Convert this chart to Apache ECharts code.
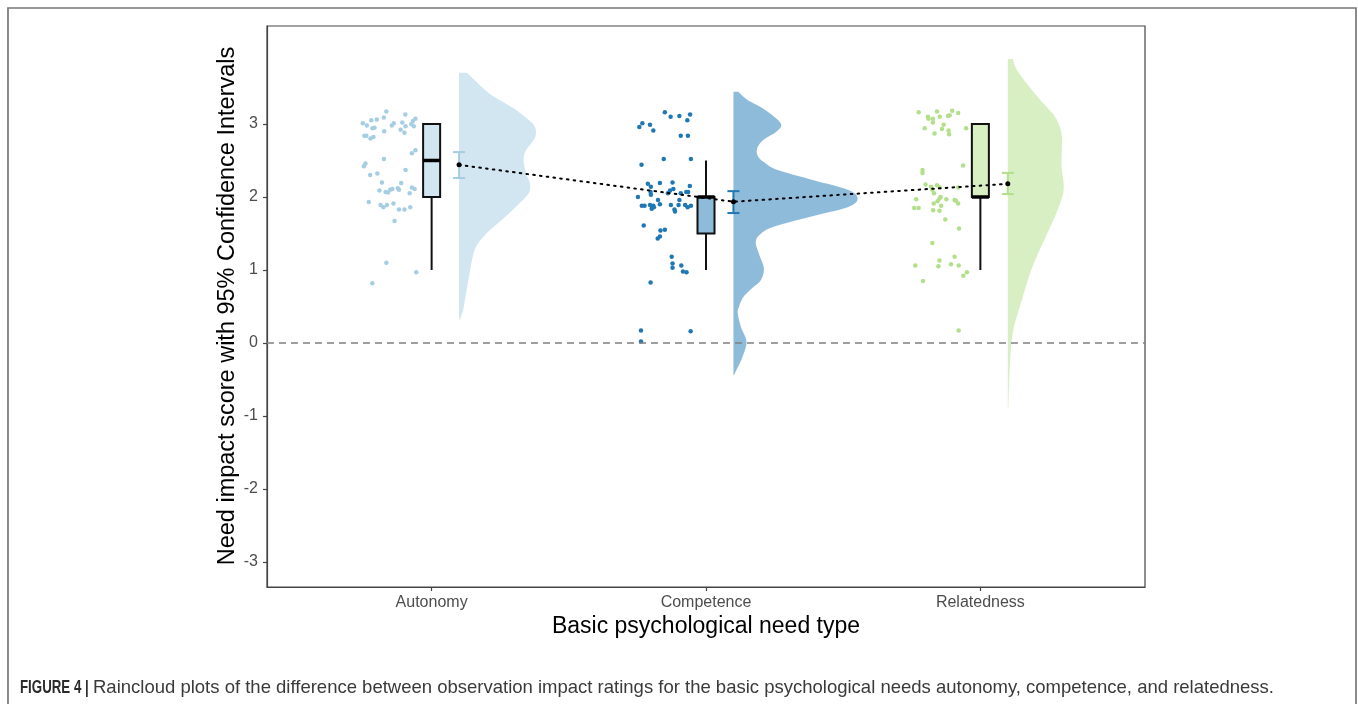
<!DOCTYPE html>
<html>
<head>
<meta charset="utf-8">
<script src="https://cdn.jsdelivr.net/npm/echarts@6/dist/echarts.min.js"></script>
<style>
html,body{margin:0;padding:0;background:#fff;}
#chart{width:1358px;height:704px;}
</style>
</head>
<body>
<div id="chart"></div>
<script>
// ---------------- DATA ----------------
const categories = ['Autonomy', 'Competence', 'Relatedness'];
const yTicks = [-3, -2, -1, 0, 1, 2, 3];

// jittered raw observations: [horizontal jitter (category units), score]
const autonomyPoints = [
  [-0.165,3.17],[-0.096,3.13],[-0.174,3.09],[-0.059,3.07],[-0.200,3.06],[-0.220,3.05],[-0.068,3.04],
  [-0.251,3.01],[-0.138,3.01],[-0.107,3.02],[-0.074,3.00],[-0.236,2.98],[-0.145,2.98],[-0.095,2.97],
  [-0.065,2.97],[-0.208,2.95],[-0.216,2.94],[-0.113,2.92],[-0.173,2.90],[-0.099,2.88],[-0.245,2.84],
  [-0.238,2.84],[-0.212,2.82],[-0.223,2.80],[-0.059,2.64],[-0.072,2.60],[-0.174,2.52],[-0.241,2.46],
  [-0.247,2.42],[-0.095,2.37],[-0.198,2.32],[-0.224,2.30],[-0.181,2.20],[-0.111,2.19],[-0.072,2.13],
  [-0.062,2.11],[-0.123,2.12],[-0.119,2.10],[-0.143,2.11],[-0.151,2.10],[-0.190,2.09],[-0.168,2.07],
  [-0.159,2.06],[-0.080,2.05],[-0.229,1.93],[-0.139,1.91],[-0.186,1.89],[-0.163,1.89],[-0.176,1.86],
  [-0.078,1.86],[-0.119,1.83],[-0.099,1.83],[-0.135,1.67],[-0.165,1.10],[-0.056,0.97],[-0.216,0.82]
];
const competencePoints = [
  [-0.150,3.16],[-0.129,3.10],[-0.097,3.11],[-0.058,3.13],[-0.068,3.05],[-0.232,3.01],[-0.243,2.96],
  [-0.204,2.99],[-0.192,2.91],[-0.092,2.84],[-0.066,2.84],[-0.154,2.52],[-0.055,2.52],[-0.235,2.44],
  [-0.212,2.18],[-0.168,2.19],[-0.122,2.20],[-0.201,2.14],[-0.059,2.15],[-0.119,2.11],[-0.131,2.09],
  [-0.202,2.07],[-0.072,2.07],[-0.065,2.07],[-0.092,2.05],[-0.139,2.05],[-0.248,2.00],[-0.201,2.03],
  [-0.175,1.96],[-0.097,1.96],[-0.234,1.88],[-0.224,1.88],[-0.204,1.89],[-0.192,1.88],[-0.168,1.90],
  [-0.128,1.89],[-0.100,1.89],[-0.076,1.89],[-0.055,1.88],[-0.190,1.86],[-0.198,1.84],[-0.067,1.86],
  [-0.115,1.83],[-0.113,1.80],[-0.227,1.61],[-0.150,1.55],[-0.166,1.54],[-0.168,1.46],[-0.176,1.43],
  [-0.125,1.18],[-0.122,1.09],[-0.122,1.03],[-0.090,1.06],[-0.084,0.98],[-0.071,0.97],[-0.202,0.83],
  [-0.237,0.17],[-0.056,0.16],[-0.237,0.02]
];
const relatednessPoints = [
  [-0.225,3.16],[-0.158,3.17],[-0.103,3.18],[-0.081,3.15],[-0.112,3.12],[-0.118,3.11],[-0.148,3.10],
  [-0.191,3.10],[-0.189,3.07],[-0.173,3.07],[-0.173,3.02],[-0.134,2.99],[-0.203,2.94],[-0.140,2.93],
  [-0.116,2.91],[-0.052,2.94],[-0.167,2.87],[-0.114,2.86],[-0.063,2.43],[-0.211,2.37],[-0.211,2.33],
  [-0.200,2.17],[-0.180,2.14],[-0.158,2.16],[-0.148,2.13],[-0.081,2.13],[-0.175,2.10],[-0.169,2.05],
  [-0.145,2.00],[-0.149,1.98],[-0.234,1.97],[-0.124,1.97],[-0.094,1.96],[-0.089,1.95],[-0.081,1.91],
  [-0.156,1.94],[-0.170,1.91],[-0.143,1.88],[-0.241,1.85],[-0.225,1.85],[-0.172,1.82],[-0.149,1.81],
  [-0.128,1.69],[-0.078,1.57],[-0.175,1.37],[-0.094,1.18],[-0.149,1.13],[-0.237,1.06],[-0.153,1.05],
  [-0.107,1.08],[-0.079,1.06],[-0.049,0.97],[-0.062,0.92],[-0.209,0.85],[-0.079,0.17]
];

// half-violin density profiles: [score, relative density]
const autonomyDensity = [
  [3.70,0.065],[3.56,0.15],[3.42,0.24],[3.30,0.355],[3.19,0.46],[3.01,0.59],[2.89,0.62],[2.78,0.60],
  [2.64,0.54],[2.51,0.52],[2.32,0.54],[2.19,0.57],[2.05,0.56],[1.87,0.46],[1.68,0.34],[1.50,0.22],
  [1.32,0.137],[1.14,0.105],[0.91,0.08],[0.68,0.056],[0.45,0.032],[0.32,0.006]
];
const competenceDensity = [
  [3.44,0.04],[3.33,0.113],[3.20,0.25],[3.01,0.38],[2.90,0.35],[2.78,0.24],[2.66,0.19],[2.55,0.20],
  [2.46,0.26],[2.37,0.355],[2.23,0.645],[2.10,0.92],[1.98,1.0],[1.86,0.92],[1.73,0.62],[1.59,0.32],
  [1.48,0.21],[1.37,0.18],[1.20,0.21],[1.02,0.245],[0.86,0.22],[0.75,0.15],[0.63,0.08],[0.50,0.045],
  [0.41,0.035],[0.22,0.06],[0.02,0.105],[-0.19,0.073],[-0.37,0.024],[-0.44,0.004]
];
const relatednessDensity = [
  [3.89,0.04],[3.75,0.07],[3.56,0.15],[3.33,0.26],[3.10,0.38],[2.87,0.433],[2.65,0.435],[2.42,0.433],
  [2.10,0.45],[1.82,0.40],[1.51,0.32],[1.05,0.20],[0.59,0.113],[0.14,0.04],[-0.32,0.016],[-0.89,0.004]
];

// boxplot stats: [lower whisker, Q1, median, Q3, upper whisker]
const boxStats = [
  [1, 2, 2.5, 3, 3],
  [1, 1.5, 2, 2, 2.5],
  [1, 2, 2, 3, 3]
];
// means with 95% confidence intervals
const means = [2.44, 1.935, 2.18];
const ciLower = [2.26, 1.78, 2.04];
const ciUpper = [2.615, 2.08, 2.33];

// ---------------- STYLE ----------------
const pointColors = ['#a6cee3', '#1f78b4', '#b2df8a'];
const fillColors = ['#d2e6f1', '#8fbbda', '#d8efc4'];
const SHIFT = 0.1;          // violin / mean offset to the right
const VIOLIN_SCALE = 0.4526; // density 1 -> width in category units
const BOX_HALF = 0.031;
const CAP_HALF = 0.022;

const pointSets = [autonomyPoints, competencePoints, relatednessPoints];
const densities = [autonomyDensity, competenceDensity, relatednessDensity];

function catmull(pts, steps) {
  const out = [];
  for (let i = 0; i < pts.length - 1; i++) {
    const p0 = pts[i - 1] || pts[i], p1 = pts[i], p2 = pts[i + 1], p3 = pts[i + 2] || pts[i + 1];
    for (let s = 0; s < steps; s++) {
      const t = s / steps, t2 = t * t, t3 = t2 * t;
      const f = (a, b, c, d) => 0.5 * ((2 * b) + (-a + c) * t + (2 * a - 5 * b + 4 * c - d) * t2 + (-a + 3 * b - 3 * c + d) * t3);
      out.push([f(p0[0], p1[0], p2[0], p3[0]), f(p0[1], p1[1], p2[1], p3[1])]);
    }
  }
  out.push(pts[pts.length - 1]);
  return out;
}

const chart = echarts.init(document.getElementById('chart'), null, {renderer: 'canvas'});

const series = [];

// violins
series.push({
  type: 'custom',
  silent: true,
  z: 1,
  data: categories.map((c, i) => [i + 1 + SHIFT, i]),
  renderItem: function (params, api) {
    const g = params.dataIndex;
    const prof = densities[g];
    const base = g + 1 + SHIFT;
    const px = prof.map(p => api.coord([base + p[1] * VIOLIN_SCALE, p[0]]));
    const curve = catmull(px, 8);
    const b0 = api.coord([base, prof[prof.length - 1][0]]);
    const b1 = api.coord([base, prof[0][0]]);
    curve.push(b0, b1);
    return {type: 'polygon', shape: {points: curve}, style: {fill: fillColors[g], stroke: null}};
  }
});

// boxplots
series.push({
  type: 'custom',
  silent: true,
  z: 3,
  data: categories.map((c, i) => [i + 1, i]),
  renderItem: function (params, api) {
    const g = params.dataIndex;
    const s = boxStats[g];
    const x = g + 1;
    const pMin = api.coord([x, s[0]]), pQ1 = api.coord([x, s[1]]), pMed = api.coord([x, s[2]]),
          pQ3 = api.coord([x, s[3]]), pMax = api.coord([x, s[4]]);
    const l = api.coord([x - BOX_HALF, s[1]])[0], r = api.coord([x + BOX_HALF, s[1]])[0];
    const st = {stroke: '#111', lineWidth: 2};
    return {
      type: 'group',
      children: [
        {type: 'line', shape: {x1: pMin[0], y1: pMin[1], x2: pQ1[0], y2: pQ1[1]}, style: st},
        {type: 'line', shape: {x1: pQ3[0], y1: pQ3[1], x2: pMax[0], y2: pMax[1]}, style: st},
        {type: 'rect', shape: {x: l, y: pQ3[1], width: r - l, height: pQ1[1] - pQ3[1]},
          style: {fill: fillColors[g], stroke: '#111', lineWidth: 2}},
        {type: 'line', shape: {x1: l, y1: pMed[1], x2: r, y2: pMed[1]}, style: {stroke: '#000', lineWidth: 3.5}}
      ]
    };
  }
});

// raw points
pointSets.forEach((set, g) => {
  series.push({
    type: 'scatter',
    silent: true,
    z: 4,
    symbol: 'circle',
    symbolSize: 4.5,
    itemStyle: {color: pointColors[g], opacity: 1},
    data: set.map(p => [g + 1 + p[0], p[1]])
  });
});

// error bars
series.push({
  type: 'custom',
  silent: true,
  z: 5,
  data: categories.map((c, i) => [i + 1 + SHIFT, means[i]]),
  renderItem: function (params, api) {
    const g = params.dataIndex;
    const x = g + 1 + SHIFT;
    const lo = api.coord([x, ciLower[g]]), hi = api.coord([x, ciUpper[g]]);
    const l = api.coord([x - CAP_HALF, 0])[0], r = api.coord([x + CAP_HALF, 0])[0];
    const st = {stroke: pointColors[g], lineWidth: 2};
    return {
      type: 'group',
      children: [
        {type: 'line', shape: {x1: lo[0], y1: lo[1], x2: hi[0], y2: hi[1]}, style: st},
        {type: 'line', shape: {x1: l, y1: lo[1], x2: r, y2: lo[1]}, style: st},
        {type: 'line', shape: {x1: l, y1: hi[1], x2: r, y2: hi[1]}, style: st}
      ]
    };
  }
});

// mean line + zero reference line
series.push({
  type: 'line',
  silent: true,
  z: 6,
  symbol: 'circle',
  symbolSize: 5,
  itemStyle: {color: '#000'},
  lineStyle: {color: '#000', width: 2, type: [1.6, 5.2], cap: 'round'},
  data: categories.map((c, i) => [i + 1 + SHIFT, means[i]]),
  markLine: {
    silent: true,
    symbol: 'none',
    label: {show: false},
    lineStyle: {color: '#808080', width: 1.5, type: [7, 5]},
    data: [{yAxis: 0}]
  }
});

const option = {
  animation: false,
  backgroundColor: '#fff',
  grid: {left: 267, top: 26, width: 878, height: 561, show: true, borderColor: '#444', borderWidth: 1.2, backgroundColor: 'transparent'},
  xAxis: {
    type: 'value', min: 0.4, max: 3.6,
    axisLine: {show: true, onZero: false, lineStyle: {color: '#444', width: 1.2}},
    axisTick: {show: true, customValues: [1, 2, 3], length: 4, lineStyle: {color: '#444', width: 1.2}},
    axisLabel: {customValues: [1, 2, 3], formatter: v => categories[Math.round(v) - 1], color: '#4d4d4d',
      fontSize: 16, fontFamily: 'Liberation Sans, Arial, sans-serif', margin: 8},
    splitLine: {show: false}
  },
  yAxis: {
    type: 'value', min: -3.342, max: 4.342,
    axisLine: {show: true, onZero: false, lineStyle: {color: '#444', width: 1.2}},
    axisTick: {show: true, customValues: yTicks, length: 4, lineStyle: {color: '#444', width: 1.2}},
    axisLabel: {customValues: yTicks, color: '#4d4d4d', fontSize: 16, fontFamily: 'Liberation Sans, Arial, sans-serif', margin: 9},
    splitLine: {show: false}
  },
  graphic: [
    {type: 'polyline', silent: true, z: 0, shape: {points: [[8, 704], [8, 8], [1356, 8], [1356, 704]]},
      style: {stroke: '#777', lineWidth: 1.7, fill: null}},
    {type: 'text', silent: true, x: 228, y: 306, rotation: Math.PI / 2,
      style: {text: 'Need impact score with 95% Confidence Intervals', fill: '#000',
        font: '23.5px "Liberation Sans", Arial, sans-serif', align: 'center', verticalAlign: 'middle'}},
    {type: 'text', silent: true, x: 706, y: 627,
      style: {text: 'Basic psychological need type', fill: '#000',
        font: '23px "Liberation Sans", Arial, sans-serif', align: 'center', verticalAlign: 'middle'}},
    {type: 'text', silent: true, x: 20, y: 688, scaleX: 0.7,
      style: {text: 'FIGURE 4 |', fill: '#2b2b2b', fontWeight: 'bold', fontSize: 19,
        fontFamily: '"Liberation Sans", Arial, sans-serif', align: 'left', verticalAlign: 'middle'}},
    {type: 'text', silent: true, x: 93, y: 688,
      style: {text: 'Raincloud plots of the difference between observation impact ratings for the basic psychological needs autonomy, competence, and relatedness.',
        fill: '#3a3a3a', font: '18.5px "Liberation Sans", Arial, sans-serif', align: 'left', verticalAlign: 'middle'}}
  ],
  series: series
};
chart.setOption(option);
</script>
</body>
</html>
